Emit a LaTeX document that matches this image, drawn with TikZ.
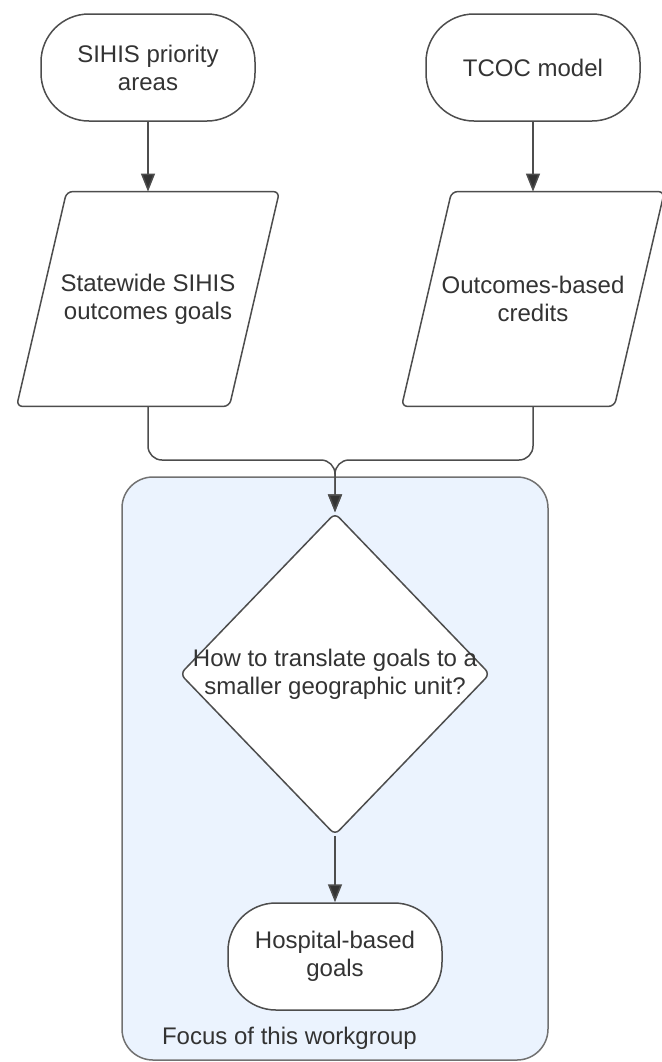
\documentclass[tikz,border=0pt]{standalone}
\usepackage{fontspec}
\setmainfont{Liberation Sans}
\usepackage{tikz}
\usetikzlibrary{arrows.meta,positioning,shapes.geometric,backgrounds}
\definecolor{ln}{HTML}{4D4D4D}
\definecolor{txt}{HTML}{333333}
\definecolor{grpblue}{HTML}{EBF3FE}

\begin{document}
\begin{tikzpicture}[
  x=0.5pt, y=-0.5pt,
  every node/.style={font=\fontsize{12}{14}\selectfont, text=txt, align=center},
  term/.style={draw=ln, line width=0.75pt, fill=white, rectangle, rounded corners=24pt,
    minimum width=107pt, minimum height=53.5pt, inner sep=0pt},
  para/.style={rectangle, minimum width=106pt, minimum height=107pt, inner sep=0pt},
  slab/.style={draw=ln, line width=0.75pt, fill=white, rounded corners=3pt},
  dec/.style={draw=ln, line width=0.75pt, fill=white, diamond, minimum width=155pt,
    minimum height=161pt, inner sep=0pt, rounded corners=3pt},
  grp/.style={draw=ln!80, line width=0.75pt, fill=grpblue, rounded corners=15.5pt,
    minimum width=213pt, minimum height=291.5pt},
  arr/.style={draw=ln, line width=0.75pt, -{Triangle[length=9pt,width=7pt,fill=txt]}},
  merge/.style={arr, rounded corners=7pt}
]
\useasboundingbox (0,0) rectangle (661,1062);
% workgroup area
\node[grp] (focus) at (335,768.5) {};
\node[anchor=west] (focuslbl) at (155,1038) {Focus of this workgroup};
% inputs
\node[term] (prio) at (148,67.5) {SIHIS priority\\areas};
\node[term] (tcoc) at (533,67.5) {TCOC model};
\node[para] (state) at (148,299) {Statewide SIHIS\\outcomes goals};
\node[para] (credit) at (533,299) {Outcomes-based\\credits};
\begin{scope}[on background layer]
  \foreach \n in {state,credit}
    \draw[slab] ([xshift=-12.5pt]\n.south west) -- ([xshift=-12.5pt]\n.south east)
      -- ([xshift=12.5pt]\n.north east) -- ([xshift=12.5pt]\n.north west) -- cycle;
\end{scope}
% decision and result
\node[dec] (how) at (335,674) {};
\node (howtxt) at (how.center) {How to translate goals to a\\smaller geographic unit?};
\node[term] (hosp) at (335,956.5) {Hospital-based\\goals};
\coordinate (mrg) at (335,460);
\draw[arr] (prio) -- (state);
\draw[arr] (tcoc) -- (credit);
\draw[merge] (state) |- (mrg) -- (how.north);
\draw[merge] (credit) |- (mrg) -- (how.north);
\draw[arr] (how) -- (hosp);
\end{tikzpicture}
\end{document}
